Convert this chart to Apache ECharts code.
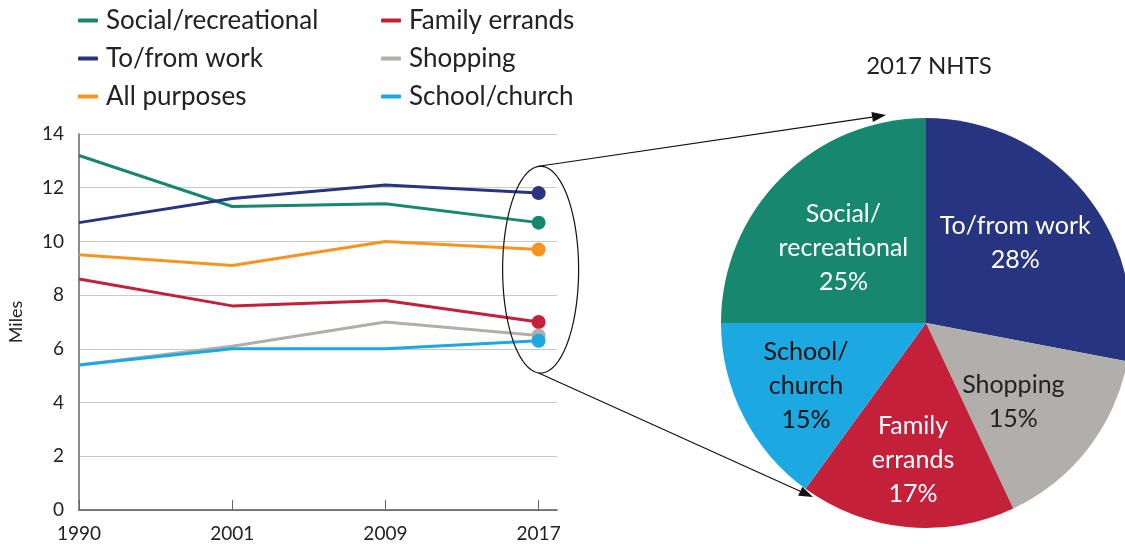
<!DOCTYPE html>
<html><head><meta charset="utf-8">
<script src="https://cdn.jsdelivr.net/npm/echarts@6/dist/echarts.min.js"></script>
<style>html,body{margin:0;padding:0;background:#fff}#c{width:1125px;height:544px}</style>
</head><body><div id="c"></div>
<script>
const years = ['1990','2001','2009','2017'];
const social = [13.2, 11.3, 11.4, 10.7];
const work = [10.7, 11.6, 12.1, 11.8];
const allPurposes = [9.5, 9.1, 10.0, 9.7];
const family = [8.6, 7.6, 7.8, 7.0];
const shopping = [5.4, 6.1, 7.0, 6.5];
const school = [5.4, 6.0, 6.0, 6.3];
const yTicks = [0, 2, 4, 6, 8, 10, 12, 14];
const pieNames = ['To/from work','Shopping','Family errands','School/church','Social/recreational'];
const pieLabels = ['To/from work\n28%','Shopping\n15%','Family\nerrands\n17%','School/\nchurch\n15%','Social/\nrecreational\n25%'];
const pieValues = [28, 15, 17, 15, 25];

const C = {
  social:'#17876f', work:'#27347f', all:'#f7941e', family:'#c4203a', shopping:'#b2aeab', school:'#1ca8e0'
};
const FONT = 'Lato';
const chart = echarts.init(document.getElementById('c'));

function lineSeries(name, arr, color){
  return {
    name, type:'line', color,
    data: arr.map((v,i)=>({value:[i,v], symbol: i===arr.length-1 ? 'circle':'none'})),
    symbol:'circle', symbolSize:14, lineStyle:{width:3, color}, itemStyle:{color},
    emphasis:{disabled:true}, animation:false, z:3
  };
}
const pieColors = [C.work, C.shopping, C.family, C.school, C.social];
const pieTextColors = ['#fff','#222','#fff','#111','#fff'];
const labelShift = [[4,-6.5],[2,7],[-1.5,16],[-13,7.5],[-4,0]];

chart.setOption({
  animation:false,
  textStyle:{fontFamily:FONT},
  title:{text:'2017 NHTS', left:924, top:49, textAlign:'center',
    textStyle:{fontFamily:FONT, fontSize:24, fontWeight:'normal', color:'#222'}},
  legend:[
    {left:73, top:0, orient:'vertical', itemGap:7, itemWidth:20, itemHeight:4, icon:'roundRect',
     data:['Social/recreational','To/from work','All purposes'],
     textStyle:{fontFamily:FONT, fontSize:26, lineHeight:31, color:'#222', padding:[0,0,0,3]}},
    {left:376, top:0, orient:'vertical', itemGap:7, itemWidth:20, itemHeight:4, icon:'roundRect',
     data:['Family errands','Shopping','School/church'],
     textStyle:{fontFamily:FONT, fontSize:26, lineHeight:31, color:'#222', padding:[0,0,0,3]}}
  ],
  grid:{left:79, top:134, width:478, height:376, containLabel:false},
  xAxis:{type:'value', min:0, max:3.12, interval:1,
    axisLine:{show:true, lineStyle:{color:'#555', width:1.5}},
    axisTick:{show:true, inside:true, length:10, lineStyle:{color:'#666'}},
    splitLine:{show:false},
    axisLabel:{fontFamily:FONT, fontSize:19, color:'#222', margin:14,
      formatter:v=> (Number.isInteger(v) && years[v]) ? years[v] : '', showMaxLabel:false}},
  yAxis:{type:'value', min:yTicks[0], max:yTicks[yTicks.length-1], interval:2,
    name:'Miles', nameLocation:'middle', nameGap:54, nameRotate:90,
    nameTextStyle:{fontFamily:FONT, fontSize:18, color:'#222'},
    axisLine:{show:true, lineStyle:{color:'#666', width:1.5}},
    axisTick:{show:false},
    splitLine:{show:true, lineStyle:{color:'#c9c9c9', width:1}},
    axisLabel:{fontFamily:FONT, fontSize:19, color:'#222', margin:15}},
  series:[
    lineSeries('Social/recreational', social, C.social),
    lineSeries('To/from work', work, C.work),
    lineSeries('All purposes', allPurposes, C.all),
    lineSeries('Family errands', family, C.family),
    lineSeries('Shopping', shopping, C.shopping),
    lineSeries('School/church', school, C.school),
    {type:'pie', center:[926,323], radius:205, startAngle:90, clockwise:true,
     silent:true, animation:false, legendHoverLink:false,
     label:{show:true, position:'inside', fontFamily:FONT, fontSize:25, lineHeight:34},
     labelLine:{show:false},
     labelLayout:(p)=>({dx:labelShift[p.dataIndex][0], dy:labelShift[p.dataIndex][1]}),
     data: pieNames.map((n,i)=>({name:'pie_'+n, value:pieValues[i],
        itemStyle:{color:pieColors[i]},
        label:{formatter:pieLabels[i], color:pieTextColors[i]}}))}
  ]
});

// annotation: ellipse around 2017 points + arrows to pie
const topPt = chart.convertToPixel({gridIndex:0}, [3, 12.8]);
const botPt = chart.convertToPixel({gridIndex:0}, [3, 5.1]);
const cx = topPt[0] + 2, cy = (topPt[1]+botPt[1])/2, ry = (botPt[1]-topPt[1])/2, rx = 38;
const pts = [];
for (let k=0;k<120;k++){const a=k/120*Math.PI*2; pts.push([cx+rx*Math.cos(a), cy+ry*Math.sin(a)]);}
function arrow(x1,y1,x2,y2){
  const ang=Math.atan2(y2-y1,x2-x1), L=14, W=5;
  const bx=x2-L*Math.cos(ang), by=y2-L*Math.sin(ang);
  return [
    {type:'line', shape:{x1,y1,x2:bx,y2:by}, style:{stroke:'#111', lineWidth:1.2}, silent:true},
    {type:'polygon', shape:{points:[[x2,y2],[bx+W*Math.sin(ang),by-W*Math.cos(ang)],[bx-W*Math.sin(ang),by+W*Math.cos(ang)]]}, style:{fill:'#111'}, silent:true}
  ];
}
chart.setOption({graphic:[
  {type:'polygon', shape:{points:pts}, style:{fill:'none', stroke:'#111', lineWidth:1.2}, silent:true, z:10},
  ...arrow(cx-2, topPt[1], 886, 115),
  ...arrow(cx-2, botPt[1], 813, 497)
]});
</script>
</body></html>
